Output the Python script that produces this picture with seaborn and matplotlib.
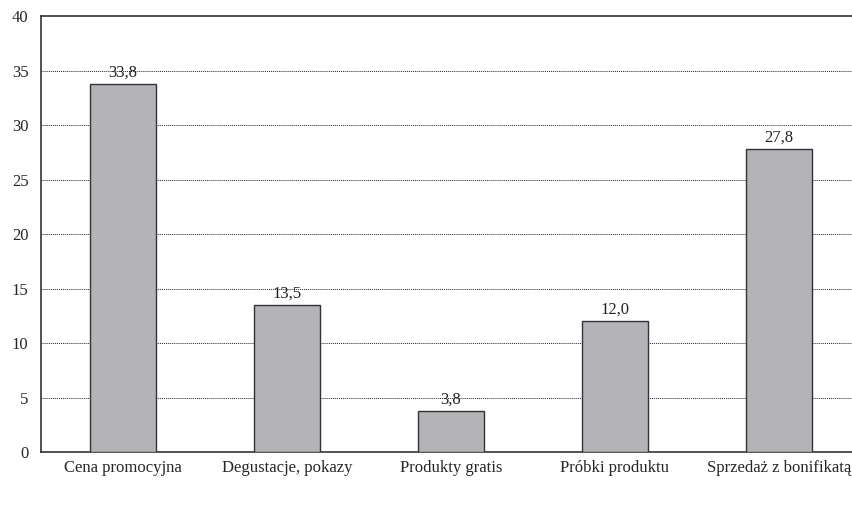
import matplotlib
matplotlib.use("Agg")
import matplotlib.pyplot as plt
import seaborn as sns
import pandas as pd
import numpy as np

categories = ["Cena promocyjna", "Degustacje, pokazy", "Produkty gratis",
              "Próbki produktu", "Sprzedaż z bonifikatą"]
values = [33.8, 13.5, 3.8, 12.0, 27.8]
y_ticks = [0, 5, 10, 15, 20, 25, 30, 35, 40]

sns.set_style("white")
plt.rcParams["font.family"] = ["Liberation Serif", "DejaVu Serif"]

df = pd.DataFrame({"kategoria": categories, "wartosc": values})

fig = plt.figure(figsize=(8.53, 5.09), dpi=100)
W, H = 853, 509
left, right, top, bottom = 41, 861, 16, 452
ax = fig.add_axes([left / W, 1 - bottom / H, (right - left) / W, (bottom - top) / H])

sns.barplot(data=df, x="kategoria", y="wartosc", color="#b3b3b8",
            edgecolor="#333333", linewidth=1.0, width=0.40, saturation=1,
            ax=ax, zorder=3)

ax.set_ylim(0, 40)
ax.set_xlim(-0.5, len(categories) - 0.5)
ax.set_yticks(y_ticks)
ax.set_yticklabels([str(t) for t in y_ticks], fontsize=12)
ax.set_xlabel("")
ax.set_ylabel("")

# dotted horizontal gridlines
for t in y_ticks[1:-1]:
    ax.axhline(t, color="#222222", linestyle=(0, (1, 1)), linewidth=0.7, zorder=1)

# category labels at centres, tick marks at category boundaries
ax.set_xticks(range(len(categories)))
ax.set_xticklabels(categories, fontsize=12)
ax.tick_params(axis="x", which="major", length=0, pad=6)
ax.set_xticks(np.arange(-0.5, len(categories) + 0.5, 1), minor=True)
ax.tick_params(axis="x", which="minor", length=5, width=1, color="#333333", direction="out")
ax.tick_params(axis="y", length=5, width=1, color="#333333", direction="out", pad=4)

for side in ["left", "bottom", "top"]:
    ax.spines[side].set_visible(True)
    ax.spines[side].set_color("#333333")
    ax.spines[side].set_linewidth(1.2)
ax.spines["right"].set_visible(False)

for i, v in enumerate(values):
    ax.text(i, v + 0.3, f"{v:.1f}".replace(".", ","), ha="center", va="bottom",
            fontsize=12, color="#222222", zorder=4)

fig.savefig("out.png", dpi=100)
